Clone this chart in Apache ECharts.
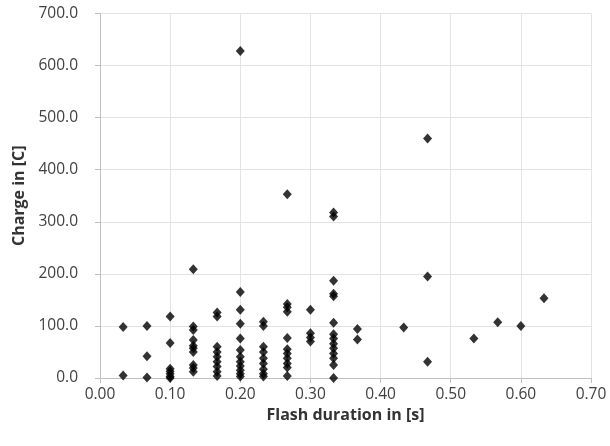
<!DOCTYPE html>
<html><head><meta charset="utf-8">
<script src="https://cdn.jsdelivr.net/npm/echarts@6/dist/echarts.min.js"></script>
<style>html,body{margin:0;padding:0;background:#fff}#c{width:610px;height:446px}</style>
</head><body><div id="c"></div>
<script>
const durations = [
 0.033,0.033,
 0.067,0.067,0.067,
 0.10,0.10,0.10,0.10,0.10,0.10,0.10,
 0.133,0.133,0.133,0.133,0.133,0.133,0.133,0.133,0.133,0.133,
 0.167,0.167,0.167,0.167,0.167,0.167,0.167,0.167,0.167,
 0.20,0.20,0.20,0.20,0.20,0.20,0.20,0.20,0.20,0.20,0.20,0.20,
 0.233,0.233,0.233,0.233,0.233,0.233,0.233,0.233,0.233,
 0.267,0.267,0.267,0.267,0.267,0.267,0.267,0.267,0.267,0.267,0.267,
 0.30,0.30,0.30,0.30,
 0.333,0.333,0.333,0.333,0.333,0.333,0.333,0.333,0.333,0.333,0.333,0.333,0.333,0.333,
 0.367,0.367,
 0.433,
 0.467,0.467,0.467,
 0.533,0.567,0.60,0.633
];
const charges = [
 98,5,
 100,42,1,
 118,67,18,13,8,3,0,
 209,99,92,73,62,57,50,25,19,12,
 126,118,60,50,41,31,22,12,4,
 628,165,131,104,76,54,41,31,23,15,8,3,
 108,100,60,50,38,28,17,8,3,
 353,142,136,127,77,55,47,38,28,20,4,
 131,86,78,70,
 318,310,187,162,157,106,84,76,66,57,47,38,25,0,
 94,74,
 97,
 460,195,31,
 76,107,100,153
];
const xTicks = [0,0.1,0.2,0.3,0.4,0.5,0.6,0.7];
const yTicks = [0,100,200,300,400,500,600,700];

const points = durations.map((d,i)=>[d,charges[i]]);
const chart = echarts.init(document.getElementById('c'), null, {renderer:'canvas'});
const font = '"Open Sans", "Liberation Sans", sans-serif';
chart.setOption({
  animation:false,
  grid:{left:100,right:19,top:13.5,bottom:68,containLabel:false},
  xAxis:{
    type:'value', min:0, max:0.7, interval:0.1,
    name:'Flash duration in [s]', nameLocation:'middle', nameGap:27,
    nameTextStyle:{fontFamily:font,fontSize:16,fontWeight:'bold',color:'#333333'},
    axisLine:{show:true,lineStyle:{color:'#bfbfbf',width:1}},
    axisTick:{show:true,length:5,lineStyle:{color:'#bfbfbf'}},
    axisLabel:{fontFamily:font,fontSize:15.5,color:'#404040',margin:9,formatter:v=>v.toFixed(2)},
    splitLine:{show:true,lineStyle:{color:'#e3e3e3',width:1}}
  },
  yAxis:{
    type:'value', min:0, max:700, interval:100,
    name:'Charge in [C]', nameLocation:'middle', nameGap:72, nameRotate:90,
    nameTextStyle:{fontFamily:font,fontSize:16,fontWeight:'bold',color:'#333333'},
    axisLine:{show:true,lineStyle:{color:'#bfbfbf',width:1}},
    axisTick:{show:true,length:5,lineStyle:{color:'#bfbfbf'}},
    axisLabel:{fontFamily:font,fontSize:15.5,color:'#404040',margin:22,formatter:v=>v.toFixed(1)},
    splitLine:{show:true,lineStyle:{color:'#e3e3e3',width:1}}
  },
  series:[{
    type:'scatter', data:points, symbol:'diamond', symbolSize:[9,10],
    itemStyle:{color:'#000'}
  }]
});
</script></body></html>
